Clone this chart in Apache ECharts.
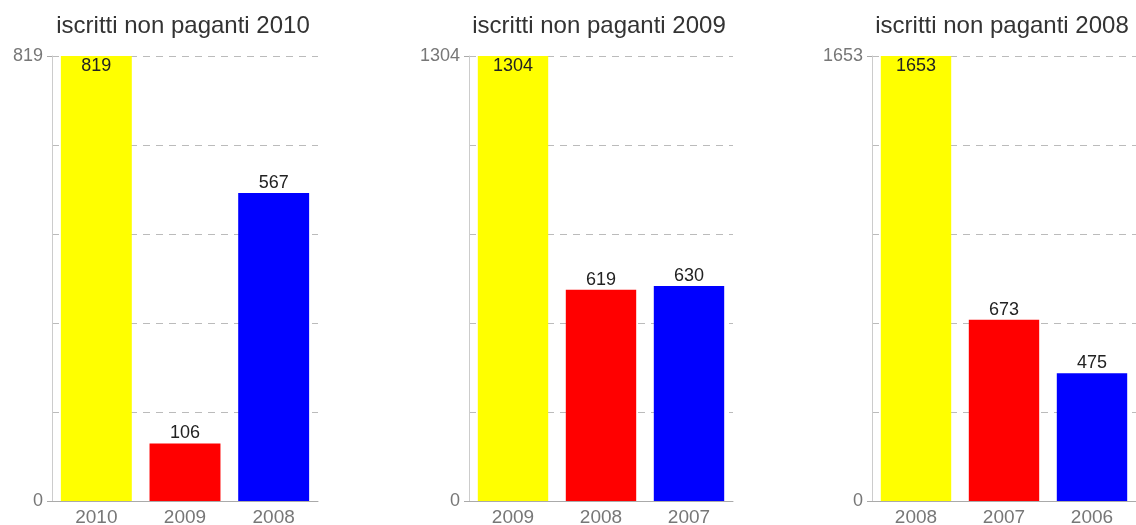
<!DOCTYPE html>
<html><head><meta charset="utf-8">
<script src="https://cdn.jsdelivr.net/npm/echarts@6/dist/echarts.min.js"></script>
<style>html,body{margin:0;padding:0;background:#fff}#c{width:1136px;height:525px}</style>
</head><body><div id="c"></div>
<script>
const titles = ['iscritti non paganti 2010', 'iscritti non paganti 2009', 'iscritti non paganti 2008'];
const categories1 = ['2010', '2009', '2008'];
const categories2 = ['2009', '2008', '2007'];
const categories3 = ['2008', '2007', '2006'];
const values1 = [819, 106, 567];
const values2 = [1304, 619, 630];
const values3 = [1653, 673, 475];
const colors = ['#ffff00', '#ff0000', '#0000ff'];

const cats = [categories1, categories2, categories3];
const vals = [values1, values2, values3];
const lefts = [52, 469, 872];
const rights = [818, 403, 0];
const FONT = 'Liberation Sans, Arial, sans-serif';

const chart = echarts.init(document.getElementById('c'));
const option = {
  animation: false,
  title: [], grid: [], xAxis: [], yAxis: [], series: []
};
for (let i = 0; i < 3; i++) {
  const mx = Math.max(...vals[i]);
  const gw = 1136 - lefts[i] - rights[i];
  option.title.push({
    text: titles[i], left: lefts[i] + gw / 2 - 7, top: 9, textAlign: 'center',
    textStyle: { fontFamily: FONT, fontSize: 24, fontWeight: 'normal', color: '#333' }
  });
  option.grid.push({ left: lefts[i], right: rights[i], top: 56, bottom: 24, outerBoundsMode: 'none', containLabel: false });
  option.xAxis.push({
    type: 'category', gridIndex: i, data: cats[i],
    axisLine: { lineStyle: { color: '#aaa' } },
    axisTick: { alignWithLabel: true, length: 5, lineStyle: { color: '#aaa' } },
    axisLabel: { color: '#777', fontSize: 19, fontFamily: FONT, margin: 7 }
  });
  // main axis: dashed grid lines, labels at 0 and max only
  option.yAxis.push({
    type: 'value', gridIndex: i, min: 0, max: mx, interval: mx / 5, position: 'left',
    axisLine: { show: true, lineStyle: { color: '#ccc' } },
    axisTick: { show: false },
    axisLabel: {
      color: '#777', fontSize: 18, fontFamily: FONT, margin: 9,
      formatter: v => (Math.abs(v) < 1e-6 || Math.abs(v - mx) < 1e-6) ? String(Math.round(v)) : ''
    },
    splitLine: { show: true, lineStyle: { color: '#bbb', type: [7, 6] } }
  });
  // tick-only axis: ticks at 0 and max
  option.yAxis.push({
    type: 'value', gridIndex: i, min: 0, max: mx, position: 'left',
    axisLine: { show: false },
    axisTick: { show: true, customValues: [0, mx], length: 5, lineStyle: { color: '#aaa' } },
    axisLabel: { show: false },
    splitLine: { show: false }
  });
  option.series.push({
    type: 'bar', xAxisIndex: i, yAxisIndex: i * 2, barWidth: '80%',
    data: vals[i].map((v, j) => ({
      value: v,
      itemStyle: { color: colors[j] },
      label: { position: v === mx ? 'insideTop' : 'top', distance: 1 }
    })),
    label: { show: true, color: '#222', fontSize: 18, fontFamily: FONT }
  });
}
chart.setOption(option);
</script>
</body></html>
